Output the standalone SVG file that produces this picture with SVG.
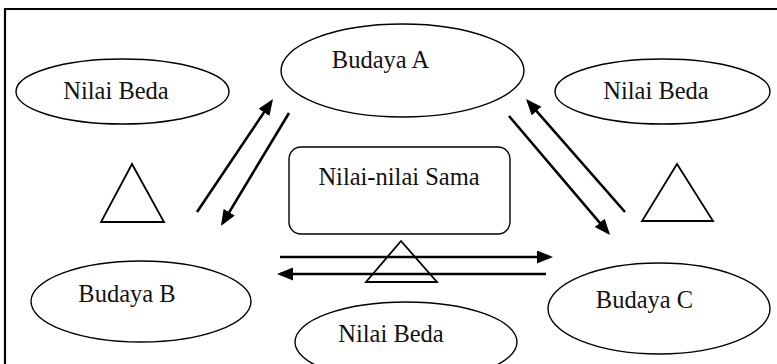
<svg xmlns="http://www.w3.org/2000/svg" width="777" height="364" viewBox="0 0 777 364">
<style>
.shape{fill:#fff;stroke:#000;stroke-width:1.4}
.tri{fill:none;stroke:#000;stroke-width:1.8;stroke-linejoin:miter}
.lbl{font-family:'Liberation Serif','DejaVu Serif','Times New Roman',serif;font-size:24.5px;fill:#111;text-anchor:middle}
.arr{stroke:#000;stroke-width:2.6;fill:none}
</style>
<defs>
<marker id="ah" markerUnits="userSpaceOnUse" markerWidth="16" markerHeight="14" refX="13" refY="6.5" orient="auto">
<path d="M0,0 L16,6.5 L0,13 z" fill="#000"/>
</marker>
</defs>
<g id="frame"><path d="M5,364 L5,9 L777,9" fill="none" stroke="#000" stroke-width="2.2"/></g>
<g id="nilai-beda-left"><ellipse class="shape" cx="122.5" cy="91.5" rx="106.5" ry="32.5"/><text class="lbl" font-family="Liberation Serif, serif" x="116" y="99">Nilai Beda</text></g>
<g id="budaya-a"><ellipse class="shape" cx="402.5" cy="70.5" rx="121.5" ry="46.5"/><text class="lbl" font-family="Liberation Serif, serif" x="380.5" y="68">Budaya A</text></g>
<g id="nilai-beda-right"><ellipse class="shape" cx="662.5" cy="91.5" rx="107.5" ry="32.5"/><text class="lbl" font-family="Liberation Serif, serif" x="656" y="99">Nilai Beda</text></g>
<g id="nilai-sama"><rect class="shape" x="289" y="147" width="221" height="87" rx="12"/><text class="lbl" font-family="Liberation Serif, serif" x="399" y="185">Nilai-nilai Sama</text></g>
<g id="budaya-b"><ellipse class="shape" cx="141" cy="301.5" rx="110" ry="40.5"/><text class="lbl" font-family="Liberation Serif, serif" x="127" y="302">Budaya B</text></g>
<g id="budaya-c"><ellipse class="shape" cx="659" cy="308.5" rx="111" ry="45.5"/><text class="lbl" font-family="Liberation Serif, serif" x="644.5" y="308">Budaya C</text></g>
<g id="nilai-beda-bottom"><ellipse class="shape" cx="406" cy="342" rx="111" ry="40"/><text class="lbl" font-family="Liberation Serif, serif" x="391" y="342">Nilai Beda</text></g>
<g id="triangles">
<polygon class="tri" points="132,164 101,222 164,222"/>
<polygon class="tri" points="677,164 642,221 713,221"/>
<polygon class="tri" points="401,241 366,282 437,282"/>
</g>
<g id="connectors">
<line class="arr" x1="197" y1="212" x2="271.3" y2="101.5" marker-end="url(#ah)"/>
<line class="arr" x1="289" y1="113" x2="222.5" y2="223.4" marker-end="url(#ah)"/>
<line class="arr" x1="509" y1="116" x2="608.1" y2="232.7" marker-end="url(#ah)"/>
<line class="arr" x1="625" y1="212" x2="528" y2="101.3" marker-end="url(#ah)"/>
<line class="arr" x1="280" y1="257" x2="550" y2="257" marker-end="url(#ah)"/>
<line class="arr" x1="546" y1="274" x2="280" y2="274" marker-end="url(#ah)"/>
</g>
</svg>
